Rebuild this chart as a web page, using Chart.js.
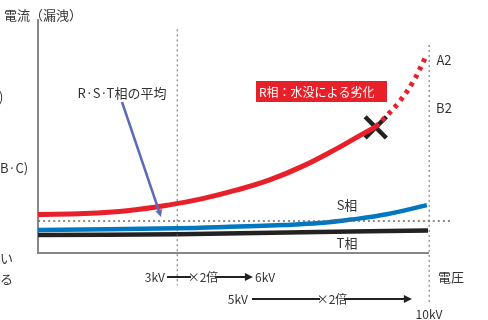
<!DOCTYPE html>
<html>
<head>
<meta charset="utf-8">
<script src="https://cdn.jsdelivr.net/npm/chart.js@4/dist/chart.umd.min.js"></script>
<style>
  html, body { margin: 0; padding: 0; background: #fff; }
  #wrap { width: 488px; height: 320px; position: relative; }
</style>
</head>
<body>
<div id="wrap"><canvas id="leakChart" width="488" height="320"></canvas></div>
<script>
// 横軸は電圧の相対位置 (0〜100)、縦軸は漏洩電流の相対値 (0〜100)
const redX = [0, 12, 23.4, 33.7, 42.2, 50.8, 59.4, 67.9, 76.5, 84.2, 86.6];
const redY = [16.5, 16.9, 18.2, 20.6, 23.3, 26.9, 31.3, 37.2, 44.6, 51.9, 54.0];
const redDotX = [86.6, 89.2, 92.8, 96.1, 99.2];
const redDotY = [54.0, 58.4, 65.1, 73.1, 83.2];
const blueX = [0, 35.7, 49.1, 63, 72.2, 80.7, 89.4, 99.7];
const blueY = [9.9, 10.6, 11.2, 12.0, 12.8, 14.4, 16.6, 20.5];
const blackX = [0, 35.7, 60, 100];
const blackY = [7.7, 8.0, 8.7, 9.6];
const avgX = [0, 106];
const avgY = [13.7, 13.7];
const failX = [86.6];
const failY = [53.8];
const kv3X = 35.7, kv10X = 100.3;
const kv3Y = [95.8, -13.9];
const kv10Y = [89.1, -21];

function pts(xs, ys) { return xs.map((x, i) => ({ x: x, y: ys[i] })); }

const JP = '"Noto Sans CJK JP", "Noto Sans", sans-serif';

// 注記・矢印を描くプラグイン
const notes = {
  id: 'notes',
  afterDraw(chart) {
    const c = chart.ctx;
    c.save();
    c.textBaseline = 'middle';
    c.fillStyle = '#333';
    c.font = '13px ' + JP;
    c.textAlign = 'left';
    c.fillText('電流（漏洩）', 4, 15);
    c.fillText(')', -1, 97);
    c.fillText('B·C)', 0, 168);
    c.fillText('い', 0, 258);
    c.fillText('る', 0, 279);

    c.textAlign = 'center';
    c.fillText('R·S·T相の平均', 122, 93);
    c.fillText('S相', 347, 205);
    c.fillText('T相', 347, 243);
    c.fillText('A2', 444, 60);
    c.fillText('B2', 444, 108);
    c.fillText('電圧', 451, 277);
    c.font = '12px ' + JP;
    c.fillText('10kV', 429, 314);

    // 平均への矢印
    arrow(c, 122, 102, 161, 217, '#5a6ab8', 2.5, 8);

    // R相ラベル
    c.fillStyle = '#e8202a';
    c.fillRect(256, 81, 131, 21);
    c.fillStyle = '#fff';
    c.textAlign = 'left';
    c.fillText('R相：水没による劣化', 259, 92);

    // 下部の倍率矢印
    c.fillStyle = '#333';
    c.textAlign = 'right';
    c.fillText('3kV', 165, 277);
    c.fillText('5kV', 248, 299);
    c.textAlign = 'left';
    c.fillText('6kV', 255, 277);
    arrow(c, 167, 277, 253, 277, '#222', 2, 9);
    arrow(c, 252, 299, 412, 299, '#222', 2, 9);
    label2x(c, 203, 277);
    label2x(c, 332, 299);
    c.restore();
  }
};

function label2x(c, x, y) {
  c.fillStyle = '#fff';
  c.fillRect(x - 12, y - 5, 24, 10);
  c.fillStyle = '#333';
  c.textAlign = 'center';
  c.fillText('×2倍', x, y);
}

function arrow(c, x1, y1, x2, y2, col, w, head) {
  const a = Math.atan2(y2 - y1, x2 - x1);
  c.strokeStyle = col;
  c.fillStyle = col;
  c.lineWidth = w;
  c.beginPath();
  c.moveTo(x1, y1);
  c.lineTo(x2 - Math.cos(a) * head * 0.8, y2 - Math.sin(a) * head * 0.8);
  c.stroke();
  c.beginPath();
  c.moveTo(x2, y2);
  c.lineTo(x2 - head * Math.cos(a - 0.45), y2 - head * Math.sin(a - 0.45));
  c.lineTo(x2 - head * Math.cos(a + 0.45), y2 - head * Math.sin(a + 0.45));
  c.closePath();
  c.fill();
}

const line = (data, color, width, dash) => ({
  data: data,
  borderColor: color,
  borderWidth: width,
  borderDash: dash || [],
  borderCapStyle: 'butt',
  pointRadius: 0,
  tension: 0.4,
  fill: false,
  clip: false
});

new Chart(document.getElementById('leakChart'), {
  type: 'line',
  data: {
    datasets: [
      line(pts(avgX, avgY), '#666', 1.5, [2, 3]),
      line(pts([kv3X, kv3X], kv3Y), '#666', 1, [2, 3]),
      line(pts([kv10X, kv10X], kv10Y), '#666', 1, [2, 3]),
      line(pts(blackX, blackY), '#222', 4.5),
      line(pts(blueX, blueY), '#0077c0', 4.5),
      line(pts(redX, redY), '#e8202a', 5),
      line(pts(redDotX, redDotY), '#e8202a', 5, [4, 5]),
      {
        type: 'scatter',
        data: pts(failX, failY),
        pointStyle: 'crossRot',
        pointRadius: 15,
        pointBorderWidth: 4.5,
        borderColor: '#222',
        backgroundColor: '#222',
        clip: false
      }
    ]
  },
  plugins: [notes],
  options: {
    responsive: false,
    animation: false,
    layout: { padding: { left: 38, right: 60, top: 14, bottom: 67 } },
    plugins: { legend: { display: false }, tooltip: { enabled: false } },
    scales: {
      x: {
        type: 'linear', min: 0, max: 100,
        grid: { display: false, drawTicks: false },
        ticks: { display: false },
        border: { display: true, color: '#888', width: 2 }
      },
      y: {
        type: 'linear', min: 0, max: 100,
        grid: { display: false, drawTicks: false },
        ticks: { display: false },
        border: { display: true, color: '#888', width: 2 }
      }
    }
  }
});
</script>
</body>
</html>
